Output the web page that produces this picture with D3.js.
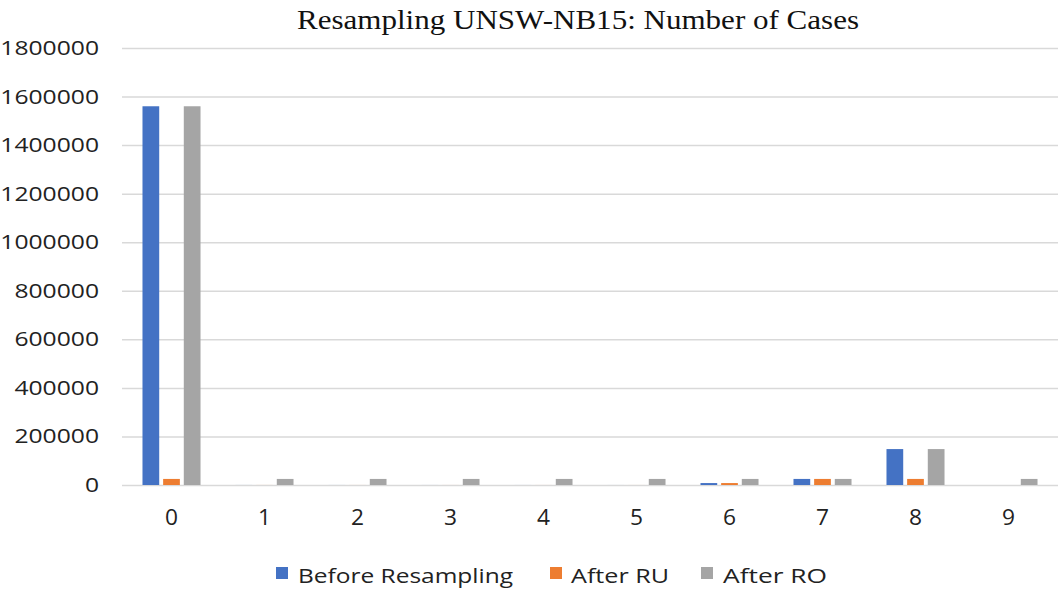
<!DOCTYPE html>
<html>
<head>
<meta charset="utf-8">
<script src="https://cdn.jsdelivr.net/npm/d3@7"></script>
<style>
  body { margin: 0; background: #fff; }
  svg { display: block; }
  .tick-label { font-family: "Open Sans", sans-serif; fill: #222; }
</style>
</head>
<body>
<div id="chart"></div>
<script>
var categories = ["0", "1", "2", "3", "4", "5", "6", "7", "8", "9"];
var seriesNames = ["Before Resampling", "After RU", "After RO"];
var beforeResampling = [1560000, 150, 120, 100, 100, 80, 8000, 25000, 148000, 20];
var afterRU = [25000, 150, 120, 100, 100, 80, 8000, 25000, 25000, 20];
var afterRO = [1560000, 25000, 25000, 25000, 25000, 25000, 25000, 25000, 148000, 25000];
var yTicks = [0, 200000, 400000, 600000, 800000, 1000000, 1200000, 1400000, 1600000, 1800000];
var colors = ["#4472C4", "#ED7D31", "#A5A5A5"];

var width = 1062, height = 592;
var margin = {top: 48, right: 7, bottom: 107, left: 125};

var svg = d3.select("#chart")
    .append("svg")
    .attr("width", width)
    .attr("height", height);

var x0 = d3.scaleBand()
    .domain(categories)
    .range([margin.left, width - margin.right])
    .paddingInner(0.376)
    .paddingOuter(0.188);

var x1 = d3.scaleBand()
    .domain(seriesNames)
    .range([0, x0.bandwidth()])
    .paddingInner(0.19);

var y = d3.scaleLinear()
    .domain([0, 1800000])
    .range([height - margin.bottom, margin.top]);

var rows = categories.map(function(c, i) {
  return {cat: c, values: [beforeResampling[i], afterRU[i], afterRO[i]]};
});

// gridlines
svg.append("g")
    .selectAll("line")
    .data(yTicks)
    .enter()
    .append("line")
    .attr("x1", 122)
    .attr("x2", 1058)
    .attr("y1", function(d) { return y(d) + 0.5; })
    .attr("y2", function(d) { return y(d) + 0.5; })
    .attr("stroke", "#d9d9d9")
    .attr("stroke-width", 1.5);

// y tick labels
svg.append("g")
    .selectAll("text")
    .data(yTicks)
    .enter()
    .append("text")
    .attr("class", "tick-label")
    .attr("x", 99)
    .attr("y", function(d) { return y(d) + 7; })
    .attr("text-anchor", "end")
    .attr("font-size", 20)
    .attr("textLength", function(d) { return String(d).length * 14.1; })
    .attr("lengthAdjust", "spacingAndGlyphs")
    .text(function(d) { return d; });

// bars
var groups = svg.append("g")
    .selectAll("g")
    .data(rows)
    .enter()
    .append("g")
    .attr("transform", function(d) { return "translate(" + x0(d.cat) + ",0)"; });

groups.selectAll("rect")
    .data(function(d) { return d.values.map(function(v, i) { return {name: seriesNames[i], value: v, i: i}; }); })
    .enter()
    .append("rect")
    .attr("x", function(d) { return x1(d.name); })
    .attr("width", x1.bandwidth())
    .attr("y", function(d) { return y(d.value); })
    .attr("height", function(d) { return y(0) - y(d.value); })
    .attr("fill", function(d) { return colors[d.i]; });

// x labels
svg.append("g")
    .selectAll("text")
    .data(categories)
    .enter()
    .append("text")
    .attr("class", "tick-label")
    .attr("x", function(d) { return x0(d) + x0.bandwidth() / 2; })
    .attr("y", 525)
    .attr("text-anchor", "middle")
    .attr("font-size", 21)
    .attr("textLength", 13)
    .attr("lengthAdjust", "spacingAndGlyphs")
    .text(function(d) { return d; });

// title
svg.append("text")
    .attr("x", 578)
    .attr("y", 29)
    .attr("text-anchor", "middle")
    .attr("font-family", "'Liberation Serif', 'Times New Roman', serif")
    .attr("font-size", 27)
    .attr("fill", "#111")
    .attr("textLength", 562)
    .attr("lengthAdjust", "spacingAndGlyphs")
    .text("Resampling UNSW-NB15: Number of Cases");

// legend
var legendItems = [
  {name: seriesNames[0], sx: 276, tx: 298, tw: 215},
  {name: seriesNames[1], sx: 550, tx: 571, tw: 98},
  {name: seriesNames[2], sx: 701, tx: 723, tw: 104}
];

var legend = svg.append("g");
legend.selectAll("rect")
    .data(legendItems)
    .enter()
    .append("rect")
    .attr("x", function(d) { return d.sx; })
    .attr("y", 567)
    .attr("width", 12)
    .attr("height", 12)
    .attr("fill", function(d, i) { return colors[i]; });

legend.selectAll("text")
    .data(legendItems)
    .enter()
    .append("text")
    .attr("class", "tick-label")
    .attr("x", function(d) { return d.tx; })
    .attr("y", 583)
    .attr("font-size", 20)
    .attr("textLength", function(d) { return d.tw; })
    .attr("lengthAdjust", "spacingAndGlyphs")
    .text(function(d) { return d.name; });
</script>
</body>
</html>
